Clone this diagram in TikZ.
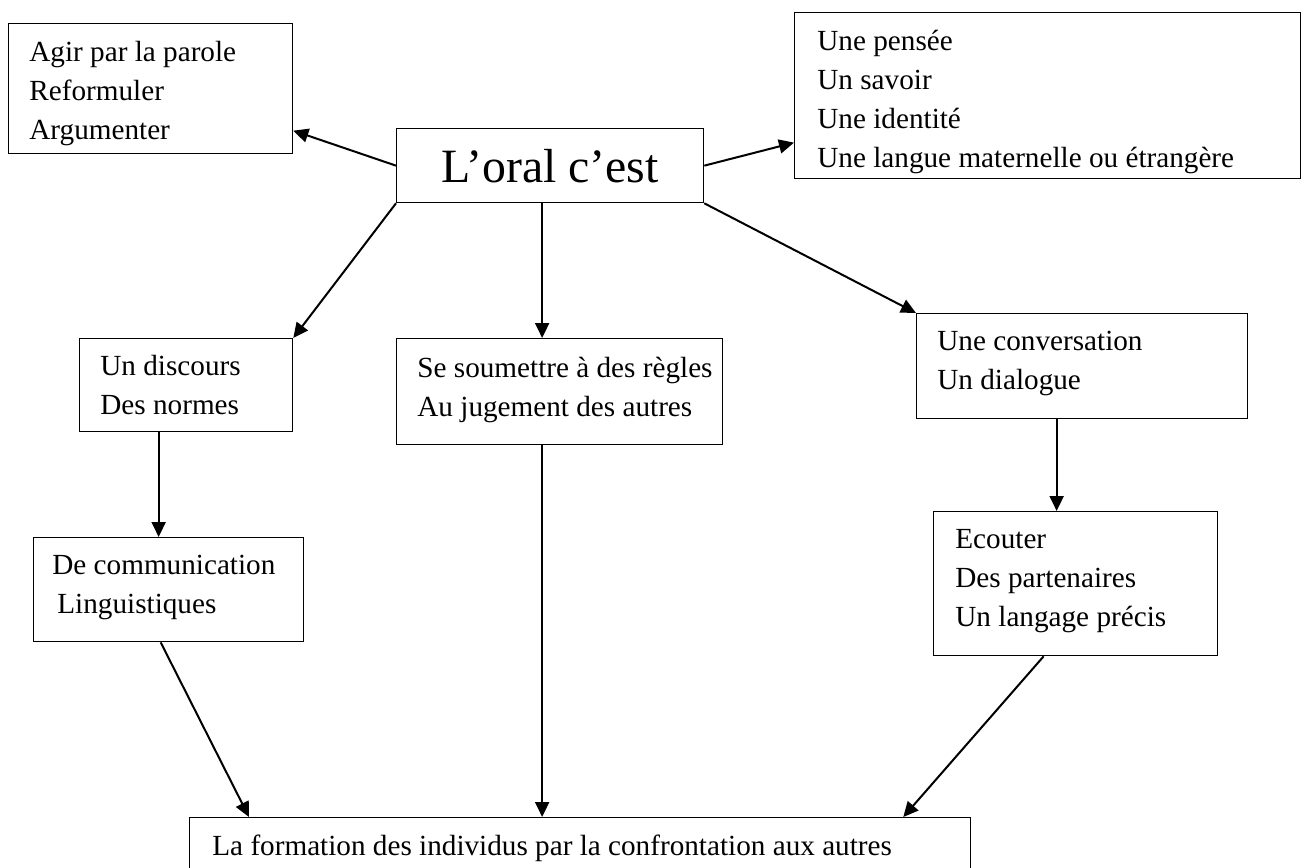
\documentclass[tikz,border=0pt]{standalone}
\usepackage{fontspec}
\setmainfont{Liberation Serif}
\usetikzlibrary{positioning,arrows.meta}

\begin{document}
\begin{tikzpicture}[x=0.5pt, y=-0.5pt,
  box/.style={draw, line width=0.65pt, anchor=north west, inner sep=0pt},
  txt/.style={align=left, inner sep=0pt, font=\fontsize{14.6}{19.5}\selectfont},
  arr/.style={line width=1pt, -{Triangle[length=7.5pt, width=7pt]}}]
  \useasboundingbox (0,0) rectangle (1302,868);

  % boxes
  \node[box, minimum width=153.5pt, minimum height=37pt,
        font=\fontsize{23.9}{28}\selectfont] (oral) at (396,128) {L’oral c’est};
  \node[box, minimum width=142pt, minimum height=65pt] (agir) at (8,23) {};
  \node[box, minimum width=253pt, minimum height=83pt] (lang) at (794,12) {};
  \node[box, minimum width=106.5pt, minimum height=46.5pt] (disc) at (79,338) {};
  \node[box, minimum width=163pt, minimum height=53pt] (regl) at (396,338) {};
  \node[box, minimum width=165.5pt, minimum height=52.5pt] (conv) at (916,313) {};
  \node[box, minimum width=135pt, minimum height=52pt] (comm) at (33,537) {};
  \node[box, minimum width=142pt, minimum height=72pt] (ecou) at (933,511) {};
  \node[box, minimum width=390.5pt, minimum height=32pt] (form) at (189,817) {};

  % texts
  \node[txt, below right=5.4pt and 10.5pt of agir.north west] (agirtxt)
    {\strut Agir par la parole\\Reformuler\\Argumenter};
  \node[txt, below right=5.4pt and 11.5pt of lang.north west] (langtxt)
    {\strut Une pensée\\Un savoir\\Une identité\\Une langue maternelle ou étrangère};
  \node[txt, below right=4.9pt and 10.5pt of disc.north west] (disctxt)
    {\strut Un discours\\Des normes};
  \node[txt, below right=5.9pt and 10.5pt of regl.north west] (regltxt)
    {\strut Se soumettre à des règles\\Au jugement des autres};
  \node[txt, below right=4.9pt and 10.5pt of conv.north west] (convtxt)
    {\strut Une conversation\\Un dialogue};
  \node[txt, below right=4.9pt and 9.5pt of comm.north west] (commtxt)
    {\strut De communication\\\hspace{2.5pt}Linguistiques};
  \node[txt, below right=4.9pt and 11pt of ecou.north west] (ecoutxt)
    {\strut Ecouter\\Des partenaires\\Un langage précis};
  \node[txt, anchor=base west] (formtxt) at ([xshift=11.5pt, yshift=-19pt]form.north west)
    {La formation des individus par la confrontation aux autres};

  % arrows
  \draw[arr] (oral.west) -- ([yshift=-21pt]agir.east);
  \draw[arr] (oral.east) -- ([yshift=-23.5pt]lang.west);
  \draw[arr] (oral.south west) -- (disc.north east);
  \draw[arr] ([xshift=-4pt]oral.south) -- ([xshift=-4pt]oral.south |- regl.north);
  \draw[arr] (oral.south east) -- (conv.north west);
  \draw[arr] ([xshift=-13.75pt]disc.south) -- ([xshift=-13.75pt]disc.south |- comm.north);
  \draw[arr] ([xshift=-12.75pt]conv.south) -- ([xshift=-12.75pt]conv.south |- ecou.north);
  \draw[arr] ([xshift=-4pt]oral.south |- regl.south) -- ([xshift=-4pt]oral.south |- form.north);
  \draw[arr] ([xshift=-4pt]comm.south) -- ([xshift=30pt]form.north west);
  \draw[arr] ([xshift=-16pt]ecou.south) -- ([xshift=-34pt]form.north east);
\end{tikzpicture}
\end{document}
